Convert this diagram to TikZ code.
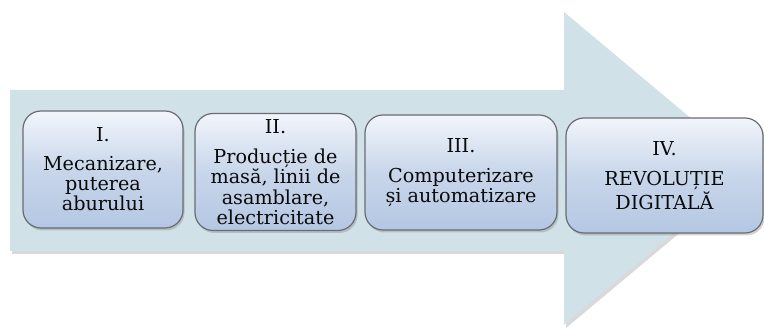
\documentclass[tikz,border=0pt]{standalone}
\usepackage{fontspec}
\setmainfont{DejaVu Serif}
\usetikzlibrary{shadows}
\definecolor{shaftfill}{RGB}{208,225,232}
\definecolor{boxtop}{RGB}{242,245,251}
\definecolor{boxmid}{RGB}{200,214,234}
\definecolor{boxbot}{RGB}{180,199,227}
\definecolor{boxline}{RGB}{105,108,114}
\definecolor{txt}{RGB}{10,10,10}
\tikzset{
  stagebox/.style={draw=boxline, line width=1.2pt, rounded corners=18pt,
    top color=boxtop, bottom color=boxbot, middle color=boxmid,
    align=center, text=txt, inner sep=0pt,
    font=\fontsize{19.2}{20.3}\selectfont,
    drop shadow={opacity=0.35, shadow xshift=1.5pt, shadow yshift=-2.5pt}},
  bigarrow/.style={fill=shaftfill,
    drop shadow={opacity=0.3, shadow xshift=2pt, shadow yshift=-3pt}}
}
\begin{document}
\begin{tikzpicture}[x=1pt,y=-1pt]
\useasboundingbox (0,0) rectangle (764,328);
\path[bigarrow] (10,90) -- (564,90) -- (564,12) -- (751,168.5) -- (564,325) -- (564,251) -- (10,251) -- cycle;
\node[stagebox, minimum width=160pt, minimum height=117pt] (s1) at (103,169.5)
  {I.\\[8pt]Mecanizare,\\puterea\\aburului};
\node[stagebox, minimum width=161pt, minimum height=117pt] (s2) at (275.5,172)
  {II.\\[10pt]Producție de\\masă, linii de\\asamblare,\\electricitate};
\node[stagebox, minimum width=192pt, minimum height=115pt] (s3) at (461,172.5)
  {III.\\[10pt]Computerizare\\și automatizare};
\node[stagebox, minimum width=197pt, minimum height=115pt] (s4) at (664.5,175.5)
  {IV.\\[10pt]REVOLUȚIE\\DIGITALĂ};
\end{tikzpicture}
\end{document}
